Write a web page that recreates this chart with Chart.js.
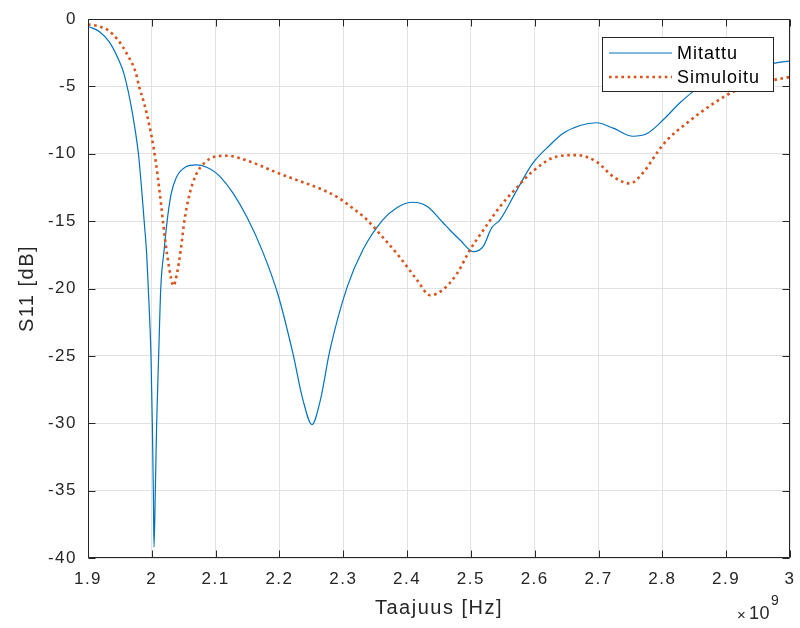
<!DOCTYPE html>
<html>
<head>
<meta charset="utf-8">
<script src="https://cdn.jsdelivr.net/npm/chart.js@4.4.0/dist/chart.umd.min.js"></script>
<style>
  html, body { margin: 0; padding: 0; background: #fff; }
  canvas { display: block; }
</style>
</head>
<body>
<canvas id="grafico" width="800" height="628"></canvas>
<script>
// Mitattu (measured), taajuus GHz (x 10^9 Hz)
const taajuusMitattu = [1.902, 1.918, 1.933, 1.947, 1.957, 1.970, 1.979, 1.984, 1.988,
  1.992, 1.9945, 1.9987, 2.0008, 2.0024, 2.0034, 2.0055, 2.0076, 2.0107, 2.0140,
  2.0196, 2.024, 2.030, 2.038, 2.0536, 2.069, 2.086, 2.100, 2.107, 2.127, 2.149,
  2.174, 2.198, 2.221, 2.237, 2.251, 2.264, 2.279, 2.306, 2.331, 2.362,
  2.384, 2.409, 2.431, 2.456, 2.467, 2.483, 2.504, 2.519, 2.5325, 2.5456,
  2.572, 2.597, 2.624, 2.644, 2.671, 2.697, 2.723, 2.754, 2.776, 2.801,
  2.828, 2.859, 2.890, 2.920, 2.953, 2.973, 3.000];
const s11Mitattu = [-0.57, -0.94, -1.68, -2.92, -4.16, -7.1, -10.0, -12.6, -15.0,
  -17.5, -20.0, -25.0, -30.0, -35.0, -39.2, -35.0, -30.0, -25.0, -20.0,
  -17.0, -15.0, -13.06, -11.8, -10.96, -10.83, -11.0, -11.4, -11.7, -12.9, -14.7,
  -17.3, -20.5, -24.8, -28.3, -30.1, -28.3, -24.6, -19.9, -17.1, -14.9,
  -14.0, -13.6, -13.9, -15.1, -15.66, -16.4, -17.27, -16.9, -15.5, -14.9,
  -12.7, -10.7, -9.35, -8.5, -7.9, -7.7, -8.1, -8.7, -8.5, -7.5,
  -6.2, -5.0, -4.2, -3.7, -3.4, -3.3, -3.1];

// Simuloitu (simulated)
const taajuusSimuloitu = [1.900, 1.915, 1.931, 1.947, 1.962, 1.975, 1.980, 1.988, 1.996, 2.003,
  2.009, 2.014, 2.0186, 2.024, 2.030, 2.0337, 2.039, 2.0457, 2.051, 2.0588,
  2.069, 2.082, 2.1006, 2.118, 2.149, 2.196, 2.230, 2.259, 2.290, 2.311,
  2.337, 2.362, 2.389, 2.416, 2.436, 2.456, 2.478, 2.499, 2.519, 2.546,
  2.572, 2.597, 2.635, 2.666, 2.697, 2.723, 2.749, 2.770, 2.792, 2.807,
  2.839, 2.879, 2.911, 2.958, 3.000];
const s11Simuloitu = [-0.4, -0.52, -0.82, -1.56, -2.67, -4.0, -5.0, -6.26, -7.87, -9.6,
  -11.58, -13.56, -15.5, -17.5, -19.2, -19.8, -19.0, -17.0, -15.0, -13.06,
  -11.58, -10.7, -10.2, -10.15, -10.5, -11.4, -12.0, -12.5, -13.2, -13.9,
  -14.9, -16.2, -17.7, -19.4, -20.5, -20.1, -18.9, -17.1, -15.7, -13.9,
  -12.5, -11.3, -10.2, -10.1, -10.6, -11.7, -12.2, -11.4, -9.9, -9.0,
  -7.7, -6.3, -5.4, -4.7, -4.3];

const xTikit = [1.9, 2, 2.1, 2.2, 2.3, 2.4, 2.5, 2.6, 2.7, 2.8, 2.9, 3];
const yTikit = [0, -5, -10, -15, -20, -25, -30, -35, -40];

const FONTTI = '"Liberation Sans", Arial, Helvetica, sans-serif';
const TEKSTI = '#262626';

function pisteet(xs, ys) {
  return xs.map((x, i) => ({ x: x, y: ys[i] }));
}

// kirjainväli Chart.js:n teksteille (nollautuu kun canvasin koko asetetaan)
const kirjainvali = {
  id: 'kirjainvali',
  beforeUpdate(chart) { chart.ctx.letterSpacing = '1.5px'; },
  beforeDraw(chart) { chart.ctx.letterSpacing = '1.5px'; }
};

// akselilaatikko, sisäänpäin osoittavat tikit, selite ja x10^9
const matlabTyyli = {
  id: 'matlabTyyli',
  afterDraw(chart) {
    const ctx = chart.ctx;
    const ca = chart.chartArea;
    const sx = chart.scales.x;
    const sy = chart.scales.y;
    const L = Math.round(ca.left) + 0.5, R = Math.round(ca.right) - 0.5;
    const T = Math.round(ca.top) + 0.5, B = Math.round(ca.bottom) - 0.5;
    ctx.save();
    ctx.letterSpacing = '0px';
    ctx.strokeStyle = TEKSTI;
    ctx.lineWidth = 1;
    ctx.beginPath();
    ctx.rect(L, T, R - L, B - T);
    xTikit.forEach(v => {
      const px = Math.round(sx.getPixelForValue(v)) + 0.5;
      ctx.moveTo(px, B); ctx.lineTo(px, B - 7);
      ctx.moveTo(px, T); ctx.lineTo(px, T + 7);
    });
    yTikit.forEach(v => {
      const py = Math.round(sy.getPixelForValue(v)) + 0.5;
      ctx.moveTo(L, py); ctx.lineTo(L + 7, py);
      ctx.moveTo(R, py); ctx.lineTo(R - 7, py);
    });
    ctx.stroke();

    // selite
    const bx = 602.5, by = 37.5, bw = 171, bh = 54;
    ctx.fillStyle = '#fff';
    ctx.fillRect(bx, by, bw, bh);
    ctx.strokeStyle = TEKSTI;
    ctx.strokeRect(bx, by, bw, bh);
    const rivit = [53, 77];
    chart.data.datasets.forEach((ds, i) => {
      ctx.save();
      ctx.strokeStyle = ds.borderColor;
      ctx.lineWidth = ds.borderWidth;
      ctx.setLineDash(ds.borderDash || []);
      ctx.beginPath();
      ctx.moveTo(609, rivit[i]);
      ctx.lineTo(672, rivit[i]);
      ctx.stroke();
      ctx.restore();
      ctx.fillStyle = '#000';
      ctx.font = '18px ' + FONTTI;
      ctx.letterSpacing = '1px';
      ctx.textBaseline = 'middle';
      ctx.textAlign = 'left';
      ctx.fillText(ds.label, 677, rivit[i] + 1);
    });

    // eksponentti
    ctx.fillStyle = TEKSTI;
    ctx.letterSpacing = '0.5px';
    ctx.textBaseline = 'middle';
    ctx.textAlign = 'left';
    ctx.font = '15px ' + FONTTI;
    ctx.fillText('\u00d7', 737, 616);
    ctx.font = '18px ' + FONTTI;
    ctx.fillText('10', 749, 614);
    ctx.font = '14px ' + FONTTI;
    ctx.fillText('9', 771, 601);
    ctx.restore();
  }
};

new Chart(document.getElementById('grafico'), {
  type: 'line',
  data: {
    datasets: [{
      label: 'Mitattu',
      data: pisteet(taajuusMitattu, s11Mitattu),
      borderColor: '#0072BD',
      borderWidth: 1.2,
      pointRadius: 0,
      cubicInterpolationMode: 'monotone',
      order: 1
    }, {
      label: 'Simuloitu',
      data: pisteet(taajuusSimuloitu, s11Simuloitu),
      borderColor: '#D95319',
      borderWidth: 2.6,
      borderDash: [2.6, 3.6],
      borderCapStyle: 'butt',
      pointRadius: 0,
      cubicInterpolationMode: 'monotone',
      order: 0
    }]
  },
  options: {
    responsive: false,
    animation: false,
    devicePixelRatio: 1,
    layout: { padding: { top: 19, right: 10, left: 0, bottom: 0 } },
    plugins: {
      legend: { display: false },
      tooltip: { enabled: false }
    },
    scales: {
      x: {
        type: 'linear',
        min: 1.9,
        max: 3,
        afterBuildTicks: s => { s.ticks = xTikit.map(v => ({ value: v })); },
        afterFit: s => { s.height = 70; s.paddingLeft = 0; s.paddingRight = 0; },
        ticks: {
          color: TEKSTI,
          font: { family: FONTTI, size: 17 },
          padding: 11,
          maxRotation: 0,
          autoSkip: false,
          callback: v => String(v)
        },
        grid: { color: '#e2e2e2', drawTicks: false },
        border: { display: false },
        title: {
          display: true,
          text: 'Taajuus [Hz]',
          color: TEKSTI,
          font: { family: FONTTI, size: 20 },
          padding: { top: 0, bottom: 8 }
        }
      },
      y: {
        type: 'linear',
        min: -40,
        max: 0,
        afterBuildTicks: s => { s.ticks = yTikit.map(v => ({ value: v })); },
        afterFit: s => { s.width = 88; s.paddingTop = 0; s.paddingBottom = 0; },
        ticks: {
          color: TEKSTI,
          font: { family: FONTTI, size: 17 },
          padding: 11,
          autoSkip: false,
          callback: v => String(v)
        },
        grid: { color: '#e2e2e2', drawTicks: false },
        border: { display: false },
        title: {
          display: true,
          text: 'S11 [dB]',
          color: TEKSTI,
          font: { family: FONTTI, size: 20 },
          padding: { top: 15, bottom: 0 }
        }
      }
    }
  },
  plugins: [kirjainvali, matlabTyyli]
});
</script>
</body>
</html>
